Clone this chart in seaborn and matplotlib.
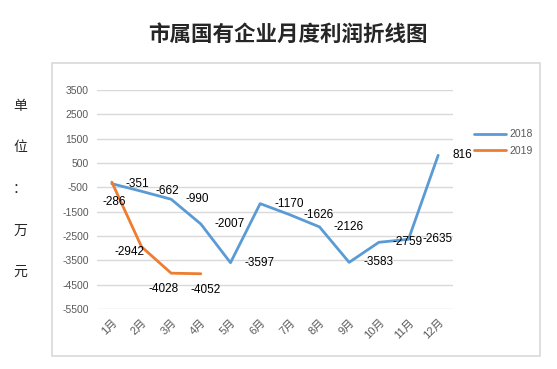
import matplotlib.pyplot as plt
import matplotlib.patches as mpatches
import pandas as pd
import seaborn as sns

months = ['1月', '2月', '3月', '4月', '5月', '6月', '7月', '8月', '9月', '10月', '11月', '12月']
profit_2018 = [-351, -662, -990, -2007, -3597, -1170, -1626, -2126, -3583, -2759, -2635, 816]
profit_2019 = [-286, -2942, -4028, -4052]
yticks = [3500, 2500, 1500, 500, -500, -1500, -2500, -3500, -4500, -5500]

df = pd.DataFrame({
    'month': months + months[:len(profit_2019)],
    'profit': profit_2018 + profit_2019,
    'year': ['2018'] * len(profit_2018) + ['2019'] * len(profit_2019),
})
df['pos'] = df['month'].map({m: i for i, m in enumerate(months)})

sns.set_style('white')
plt.rcParams['font.family'] = ['Liberation Sans', 'Noto Sans CJK SC', 'DejaVu Sans']

fig = plt.figure(figsize=(5.57, 3.69), dpi=100)
ax = fig.add_axes([97 / 557, 1 - 309 / 369, (453 - 97) / 557, (309 - 90) / 369])

# chart border like the excel chart area
fig.patches.append(mpatches.Rectangle((52 / 557, 1 - 356 / 369), (540 - 52) / 557, (356 - 63) / 369,
                                      transform=fig.transFigure, fill=False, ec='#d9d9d9', lw=1.2))

sns.lineplot(data=df, x='pos', y='profit', hue='year', palette=['#5b9bd5', '#ed7d31'],
             linewidth=2, ax=ax, legend=False, sort=False)

ax.set_xlim(-0.5, 11.5)
ax.set_ylim(-5500, 3500)
ax.set_yticks(yticks)
ax.set_yticklabels([str(v) for v in yticks], fontsize=7.5, color='#595959')
ax.set_xticks(range(len(months)))
ax.set_xticklabels(months, rotation=45, ha='right', rotation_mode='anchor',
                   fontsize=8, color='#595959')
ax.tick_params(axis='both', length=0, pad=6)
ax.grid(axis='y', color='#d9d9d9', lw=1)
ax.set_axisbelow(True)
for s in ax.spines.values():
    s.set_visible(False)
ax.set_xlabel('')
ax.set_ylabel('')

# data labels
for i, v in enumerate(profit_2018):
    ax.annotate(str(v), (i, v), xytext=(14, 0), textcoords='offset pixels',
                ha='left', va='center', fontsize=8.5, color='black')
orange_off = [(2, -20), (-12, -5), (-8, -16), (5, -16)]
for i, v in enumerate(profit_2019):
    dx, dy = orange_off[i]
    ax.annotate(str(v), (i, v), xytext=(dx, dy), textcoords='offset pixels',
                ha='center', va='center', fontsize=8.5, color='black')

# legend
h1, = ax.plot([], [], color='#5b9bd5', lw=2, label='2018')
h2, = ax.plot([], [], color='#ed7d31', lw=2, label='2019')
fig.legend(handles=[h1, h2], loc='upper left', bbox_to_anchor=(465 / 557, 1 - 120 / 369),
           frameon=False, fontsize=7.5, handlelength=3, labelspacing=0.6, handletextpad=0.4,
           labelcolor='#595959')

fig.text(288 / 557, 1 - 34 / 369, '市属国有企业月度利润折线图', ha='center', va='center',
         fontsize=15.5, fontweight='bold', family=['Noto Sans CJK SC', 'DejaVu Sans'])
fig.text(20 / 557, 1 - 189 / 369, '单\n位\n：\n万\n元', ha='center', va='center',
         fontsize=10, linespacing=3.5, family=['Noto Sans CJK SC', 'DejaVu Sans'])

fig.savefig('out.png', dpi=100)
